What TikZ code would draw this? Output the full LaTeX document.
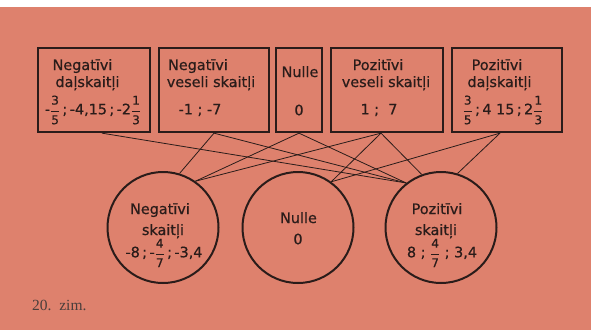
\documentclass[tikz,border=0pt]{standalone}
\usepackage{fontspec}
\setmainfont[FakeBold=0.6]{DejaVu Sans}
\newfontfamily\zimfont{Liberation Serif}
\usepackage{xcolor}
\usetikzlibrary{positioning}
\definecolor{papirs}{RGB}{222,129,109}
\definecolor{tinte}{RGB}{42,28,26}
\newcommand{\fr}[2]{\ensuremath{\displaystyle\frac{\hbox{\fontsize{12}{12}\selectfont#1}}{\hbox{\fontsize{12}{12}\selectfont#2}}}}

\begin{document}
\begin{tikzpicture}[x=1pt, y=-1pt,
    klase/.style={draw=tinte, line width=2.3pt, minimum height=84pt, inner sep=0pt},
    kopa/.style={circle, draw=tinte, line width=2pt, minimum size=111pt, inner sep=0pt},
    teksts/.style={text=tinte, inner sep=0pt, anchor=base, font=\fontsize{14.4}{17}\selectfont},
    vert/.style={text=tinte, inner sep=0pt, font=\fontsize{14.4}{17}\selectfont},
    saite/.style={draw=tinte, line width=0.8pt}
]
% fons
\fill[papirs] (0,0) rectangle (591,330);
\fill[white] (0,0) rectangle (591,7);
\useasboundingbox (0,0) rectangle (591,330);

% negatīvi daļskaitļi
\node[klase, minimum width=112pt] (b1) at (94,90) {};
\node[teksts] (b1a) at (82.5,70) {Negatīvi};
\node[teksts] (b1b) at (87.5,87) {daļskaitļi};
\node[vert] (b1c) at (93,110) {-\fr{3}{5}\,;\,-4,15\,;\,-2\fr{1}{3}};

% negatīvi veseli skaitļi
\node[klase, minimum width=110pt] (b2) at (214,90) {};
\node[teksts] (b2a) at (198,70) {Negatīvi};
\node[teksts] (b2b) at (211,87) {veseli skaitļi};
\node[vert] (b2c) at (200,110) {-1 ; -7};

% nulle
\node[klase, minimum width=46pt] (b3) at (299,90) {};
\node[teksts] (b3a) at (300,77) {Nulle};
\node[vert] (b3b) at (299,110) {0};

% pozitīvi veseli skaitļi
\node[klase, minimum width=112pt] (b4) at (387,90) {};
\node[teksts] (b4a) at (378,70) {Pozitīvi};
\node[teksts] (b4b) at (386,87) {veseli skaitļi};
\node[vert] (b4c) at (379,110) {1 ;\ \ 7};

% pozitīvi daļskaitļi
\node[klase, minimum width=110pt] (b5) at (507,90) {};
\node[teksts] (b5a) at (497,70) {Pozitīvi};
\node[teksts] (b5b) at (499.5,87) {daļskaitļi};
\node[vert] (b5c) at (503,110) {\fr{3}{5}\,;\,4 15\,;\,2\fr{1}{3}};

% apļi
\node[kopa] (neg) at (163,227.5) {};
\node[teksts] (nega) at (160,214) {Negatīvi};
\node[teksts] (negb) at (163,235) {skaitļi};
\node[vert] (negc) at (164,253) {-8\,;\,-\fr{4}{7}\,;\,-3,4};

\node[kopa] (nul) at (298,227.5) {};
\node[teksts] (nula) at (298.5,223) {Nulle};
\node[vert] (nulb) at (298,239) {0};

\node[kopa] (poz) at (441,227.5) {};
\node[teksts] (poza) at (437,214) {Pozitīvi};
\node[teksts] (pozb) at (436,235) {skaitļi};
\node[vert] (pozc) at (442,253) {8 ; \fr{4}{7} ; 3,4};

% savienojumi
\draw[saite] ([xshift=8pt]b1.south) -- (poz.128);
\draw[saite] (b2.south) -- (neg.73);
\draw[saite] (b2.south) -- (poz.128);
\draw[saite] (b3.south) -- (neg.55);
\draw[saite] (b3.south) -- (poz.128);
\draw[saite] ([xshift=-6pt]b4.south) -- (neg.55);
\draw[saite] ([xshift=-6pt]b4.south) -- (nul.54);
\draw[saite] ([xshift=-6pt]b4.south) -- (poz.110);
\draw[saite] ([xshift=-7pt]b5.south) -- (nul.54);
\draw[saite] ([xshift=-7pt]b5.south) -- (poz.73);

\node[text=tinte!85, anchor=base west, inner sep=0pt, font=\zimfont\fontsize{15.5}{15.5}\selectfont] (zim) at (32,310) {20.\ \ zim.};
\end{tikzpicture}
\end{document}
